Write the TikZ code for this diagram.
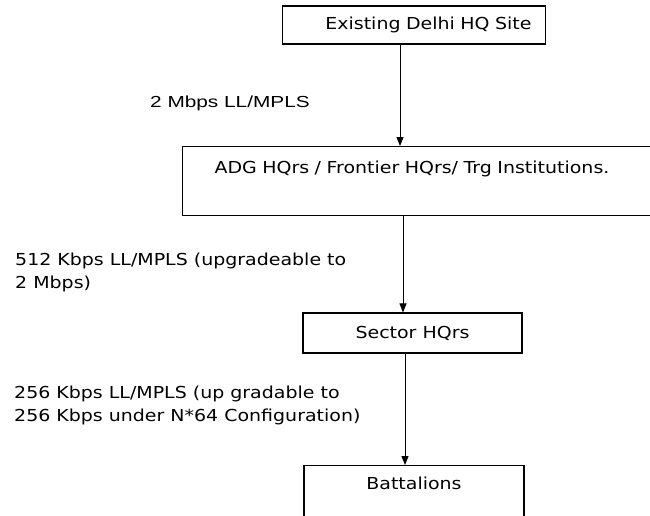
\documentclass[tikz,border=0pt]{standalone}
\usepackage{fontspec}
\setmainfont{DejaVu Sans}[FakeStretch=1.15]
\newfontfamily\linkfont{Liberation Sans}[FakeStretch=1.3]
\usetikzlibrary{positioning, arrows.meta}

\tikzset{
  site/.style={draw, line width=1.1pt, rectangle, inner sep=0pt},
  link/.style={line width=0.9pt, -{Triangle[length=9pt,width=7pt]}},
  speed/.style={align=left, inner sep=0pt}
}

\begin{document}
\begin{tikzpicture}[x=1pt, y=-1pt, font=\fontsize{16.5}{23}\selectfont]

        \clip (0,0) rectangle (650,516);

        %SITES
        \node[site, anchor=west, minimum height=38pt, inner xsep=14pt, text width=235pt, align=right] (delhi) at (282,25) {Existing Delhi HQ Site};
        \node[site, anchor=north west, inner xsep=32pt, inner ysep=14pt, text width=480pt, align=left,
              text height=13pt, text depth=28pt] (adg) at (182,146) {ADG HQrs / Frontier HQrs/ Trg Institutions.};
        \node[site, minimum width=219pt, minimum height=40pt] (sector) at (412.5,333) {Sector HQrs};
        \node[site, anchor=north, minimum width=220pt, inner ysep=11pt, text height=13pt, text depth=60pt] (bn) at (414,465) {Battalions};

        % LINKS (NOT QUITE ON ONE LINE)
        \coordinate (s1) at (400,0);
        \coordinate (s2) at (403,0);
        \coordinate (s3) at (405,0);
        \draw[link] (delhi.south -| s1) -- (adg.north -| s1);
        \draw[link] (adg.south -| s2) -- (sector.north -| s2);
        \draw[link] (sector.south -| s3) -- (bn.north -| s3);

        % BANDWIDTHS
        \node[anchor=base west, inner sep=0pt, font=\linkfont\fontsize{16}{19}\selectfont] (bw1) at (150,108) {2 Mbps LL/MPLS};
        \node[speed, anchor=north west] (bw2) at (15,252.5) {512 Kbps LL/MPLS (upgradeable to\\2 Mbps)};
        \node[speed, anchor=north west] (bw3) at (14,385.5) {256 Kbps LL/MPLS (up gradable to\\256 Kbps under N*64 Configuration)};

    \end{tikzpicture}
\end{document}
